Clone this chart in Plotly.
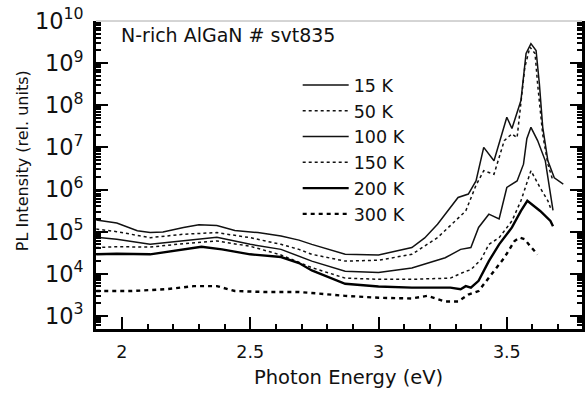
import plotly.graph_objects as go

# ---- data (photon energy in eV, PL intensity in rel. units) ----
E_15K = [1.90, 1.98, 2.06, 2.11, 2.16, 2.24, 2.30, 2.37, 2.44, 2.53, 2.62, 2.69, 2.74, 2.87, 3.00,
         3.13, 3.18, 3.23, 3.31, 3.35, 3.38, 3.41, 3.45, 3.47, 3.50, 3.52, 3.555, 3.575, 3.594,
         3.614, 3.627, 3.64, 3.66, 3.685, 3.72]
I_15K = [1.9e5, 1.6e5, 1.05e5, 9.5e4, 9.8e4, 1.26e5, 1.45e5, 1.4e5, 1.07e5, 9.5e4, 7.9e4, 6.3e4, 5.0e4,
         2.9e4, 2.8e4, 4.2e4, 7.1e4, 1.5e5, 6.5e5, 7.8e5, 1.6e6, 1.0e7, 4.8e6, 1.2e7, 5.2e7, 2.8e7,
         1.3e8, 1.7e9, 2.9e9, 2.0e9, 3.2e8, 3.0e7, 4.8e6, 1.9e6, 1.35e6]

E_50K = [1.90, 1.98, 2.11, 2.24, 2.37, 2.50, 2.62, 2.69, 2.74, 2.87, 3.00, 3.13, 3.23, 3.34, 3.38,
         3.41, 3.45, 3.49, 3.52, 3.54, 3.57, 3.59, 3.61, 3.62, 3.64, 3.66, 3.68]
I_50K = [1.15e5, 1.0e5, 7.2e4, 8.7e4, 9.5e4, 7.2e4, 5.0e4, 3.8e4, 2.9e4, 2.0e4, 2.1e4, 2.9e4, 7.2e4,
         3.1e5, 1.26e6, 2.8e6, 2.3e6, 1.45e7, 2.1e7, 1.7e7, 7.9e8, 2.4e9, 1.7e9, 3.2e8, 2.0e7, 4.0e6, 1.6e6]

E_100K = [1.90, 1.98, 2.11, 2.24, 2.37, 2.50, 2.62, 2.74, 2.87, 3.00, 3.13, 3.26, 3.32, 3.36, 3.39,
          3.43, 3.47, 3.50, 3.54, 3.565, 3.578, 3.594, 3.62, 3.65, 3.66, 3.67, 3.68]
I_100K = [7.4e4, 6.6e4, 5.0e4, 6.0e4, 7.4e4, 5.0e4, 3.8e4, 2.0e4, 1.15e4, 1.07e4, 1.38e4, 2.4e4, 3.8e4,
          4.2e4, 1.26e5, 2.6e5, 2.0e5, 1.12e6, 1.6e6, 4.0e6, 1.6e7, 3.0e7, 1.45e7, 4.8e6, 1.95e6, 6.5e5, 3.2e5]

E_150K = [1.90, 1.98, 2.11, 2.24, 2.37, 2.50, 2.62, 2.74, 2.87, 3.00, 3.13, 3.28, 3.34, 3.36, 3.40,
          3.43, 3.47, 3.52, 3.555, 3.594, 3.63, 3.66, 3.67]
I_150K = [4.2e4, 4.4e4, 4.3e4, 5.2e4, 6.0e4, 4.5e4, 2.8e4, 1.4e4, 7.9e3, 7.4e3, 7.4e3, 7.9e3, 1.15e4,
          1.25e4, 2.2e4, 5.0e4, 7.2e4, 1.8e5, 5.4e5, 2.8e6, 1.1e6, 5.4e5, 3.7e5]

E_200K = [1.90, 1.98, 2.11, 2.24, 2.31, 2.39, 2.50, 2.62, 2.69, 2.74, 2.87, 3.00, 3.13, 3.28, 3.32,
          3.34, 3.36, 3.39, 3.43, 3.47, 3.52, 3.555, 3.58, 3.63, 3.67, 3.68]
I_200K = [2.9e4, 3.0e4, 2.9e4, 3.8e4, 4.4e4, 3.8e4, 2.9e4, 2.5e4, 1.8e4, 1.2e4, 5.8e3, 5.0e3, 4.7e3,
          4.7e3, 4.3e3, 5.1e3, 4.7e3, 6.8e3, 2.0e4, 5.0e4, 1.26e5, 3.1e5, 5.4e5, 3.1e5, 1.8e5, 1.35e5]

E_300K = [1.90, 2.04, 2.17, 2.28, 2.37, 2.44, 2.56, 2.69, 2.74, 2.87, 3.00, 3.13, 3.19, 3.26, 3.31,
          3.35, 3.39, 3.44, 3.49, 3.53, 3.55, 3.57, 3.59, 3.62]
I_300K = [3.9e3, 3.9e3, 4.3e3, 5.1e3, 5.1e3, 3.9e3, 3.7e3, 3.7e3, 3.5e3, 3.0e3, 2.7e3, 2.6e3, 3.0e3,
          2.2e3, 2.2e3, 3.2e3, 3.9e3, 9.5e3, 2.4e4, 6.0e4, 7.2e4, 6.6e4, 4.6e4, 2.9e4]

series_names = ["15 K", "50 K", "100 K", "150 K", "200 K", "300 K"]
series_E = [E_15K, E_50K, E_100K, E_150K, E_200K, E_300K]
series_I = [I_15K, I_50K, I_100K, I_150K, I_200K, I_300K]

x_tick_vals = [2, 2.5, 3, 3.5]
x_tick_text = ["2", "2.5", "3", "3.5"]

styles = [
    dict(color="#111111", width=1.5, dash="solid"),
    dict(color="#111111", width=1.5, dash="3px,3px"),
    dict(color="#111111", width=1.5, dash="solid"),
    dict(color="#111111", width=1.5, dash="3px,3px"),
    dict(color="#000000", width=2.4, dash="solid"),
    dict(color="#000000", width=2.4, dash="4px,4px"),
]

FONT = "DejaVu Sans, Liberation Sans, Arial, sans-serif"

fig = go.Figure()
for name, ex, iy, st in zip(series_names, series_E, series_I, styles):
    fig.add_trace(go.Scatter(x=ex, y=iy, mode="lines", name=name, line=st))

fig.update_layout(
    width=587, height=394,
    margin=dict(l=96, r=2, t=21, b=65),
    paper_bgcolor="white", plot_bgcolor="white",
    font=dict(family=FONT, size=18, color="#111"),
    showlegend=True,
    legend=dict(
        x=0.415, y=0.85, xanchor="left", yanchor="top",
        bgcolor="rgba(0,0,0,0)", borderwidth=0,
        font=dict(family=FONT, size=17.5, color="#111"),
        itemwidth=46, tracegroupgap=0,
    ),
)

fig.update_xaxes(
    range=[1.899, 3.793],
    tickvals=x_tick_vals, ticktext=x_tick_text,
    ticks="inside", ticklen=12, tickwidth=2, tickcolor="black",
    minor=dict(ticks="inside", ticklen=5, tickwidth=2, tickcolor="black", dtick=0.1),
    showline=True, linecolor="black", linewidth=2.5, mirror=False,
    showgrid=False, zeroline=False,
    tickfont=dict(family=FONT, size=17.5, color="#111"),
    ticklabelstandoff=5,
)

fig.update_yaxes(
    type="log", range=[2.69, 10.0],
    dtick=1, exponentformat="power", showexponent="all",
    ticks="inside", ticklen=12, tickwidth=2, tickcolor="black",
    minor=dict(ticks="inside", ticklen=5, tickwidth=1.5, tickcolor="black", dtick="D1"),
    showline=True, linecolor="black", linewidth=2.5, mirror="ticks",
    showgrid=False, zeroline=False,
    tickfont=dict(family=FONT, size=18, color="#111"),
    ticklabelstandoff=6,
)

# thin grey frame line on top
fig.add_shape(type="line", xref="paper", yref="paper", x0=0, x1=1, y0=1, y1=1,
              line=dict(color="#aaaaaa", width=1))

fig.add_annotation(text="N-rich AlGaN # svt835", xref="paper", yref="paper",
                   x=0.047, y=0.954, xanchor="left", yanchor="middle", showarrow=False,
                   font=dict(family=FONT, size=19, color="#111"))
fig.add_annotation(text="Photon Energy (eV)", xref="paper", yref="paper",
                   x=0.519, y=-0.156, xanchor="center", yanchor="middle", showarrow=False,
                   font=dict(family=FONT, size=19.5, color="#111"))
fig.add_annotation(text="PL Intensity (rel. units)", xref="paper", yref="paper",
                   x=-0.151, y=0.547, xanchor="center", yanchor="middle", showarrow=False,
                   textangle=-90, font=dict(family=FONT, size=16, color="#111"))

fig.write_html("out.html", config={"displayModeBar": False},
               post_script="document.body.style.margin='0';")
